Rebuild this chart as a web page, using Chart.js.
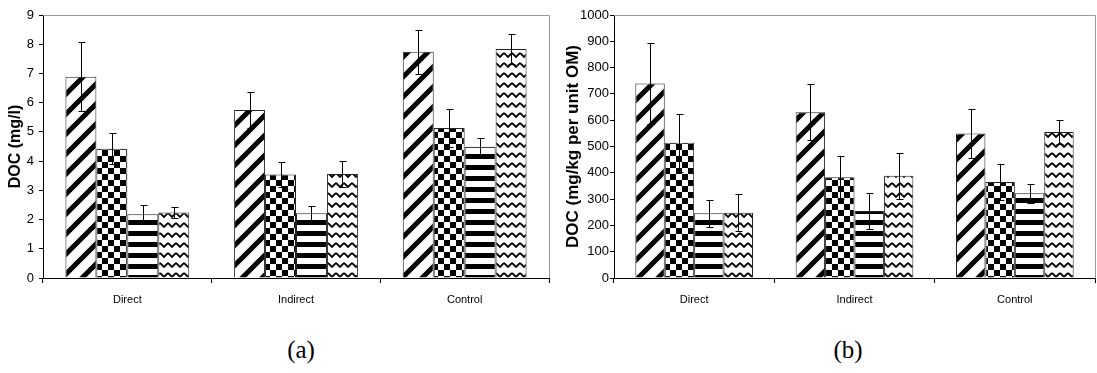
<!DOCTYPE html>
<html>
<head>
<meta charset="utf-8">
<script src="https://cdn.jsdelivr.net/npm/chart.js@4.4.0/dist/chart.umd.min.js"></script>
<style>
  body { margin: 0; background: #fff; width: 1097px; height: 373px; position: relative; overflow: hidden; }
  #wrapA { position: absolute; left: 0; top: 0; width: 556px; height: 315px; }
  #wrapB { position: absolute; left: 556px; top: 0; width: 541px; height: 315px; }
  .panel { position: absolute; top: 336px; width: 80px; text-align: center;
           font-family: "Liberation Serif", "Times New Roman", serif; font-size: 25px; color: #000; }
</style>
</head>
<body>
<div id="wrapA"><canvas id="chartA" width="556" height="315"></canvas></div>
<div id="wrapB"><canvas id="chartB" width="541" height="315"></canvas></div>
<div class="panel" style="left:261px">(a)</div>
<div class="panel" style="left:808px">(b)</div>

<script>
// categories on the x axis
const categories = ['Direct', 'Indirect', 'Control'];
const seriesNames = ['Treatment 1', 'Treatment 2', 'Treatment 3', 'Treatment 4'];

// (a) DOC (mg/l)
const docA1 = [6.89, 5.75, 7.74];
const docA2 = [4.42, 3.54, 5.13];
const docA3 = [2.18, 2.22, 4.49];
const docA4 = [2.24, 3.56, 7.84];
const errA1 = [1.18, 0.63, 0.76];
const errA2 = [0.53, 0.44, 0.65];
const errA3 = [0.32, 0.25, 0.29];
const errA4 = [0.20, 0.45, 0.51];

// (b) DOC (mg/kg per unit OM)
const docB1 = [740, 630, 549];
const docB2 = [514, 383, 365];
const docB3 = [246, 255, 322];
const docB4 = [248, 389, 555];
const errB1 = [155, 106, 92];
const errB2 = [110, 82, 70];
const errB3 = [52, 69, 37];
const errB4 = [71, 87, 47];

// fill patterns (white background, black marks)
function tile(w, h, draw) {
  const c = document.createElement('canvas');
  c.width = w; c.height = h;
  const g = c.getContext('2d');
  g.fillStyle = '#fff';
  g.fillRect(0, 0, w, h);
  g.fillStyle = '#000';
  g.strokeStyle = '#000';
  draw(g, w, h);
  return document.createElement('canvas').getContext('2d').createPattern(c, 'repeat');
}

const diagonal = tile(20, 20, (g, s) => {
  g.lineWidth = 5;
  g.beginPath();
  g.moveTo(-2, 2); g.lineTo(2, -2);
  g.moveTo(0, s); g.lineTo(s, 0);
  g.moveTo(s - 2, s + 2); g.lineTo(s + 2, s - 2);
  g.stroke();
});
const checker = tile(12, 12, (g) => {
  g.fillRect(0, 0, 6, 6);
  g.fillRect(6, 6, 6, 6);
});
const stripes = tile(4, 11, (g) => {
  g.fillRect(0, 0, 4, 5);
});
const zigzag = tile(8, 10, (g) => {
  g.lineWidth = 1.8;
  g.beginPath();
  g.moveTo(0, 3); g.lineTo(4, 7); g.lineTo(8, 3);
  g.stroke();
});
const patterns = [diagonal, checker, stripes, zigzag];

const errorBars = {
  id: 'errorBars',
  afterDatasetsDraw(chart) {
    const ctx = chart.ctx;
    const y = chart.scales.y;
    ctx.save();
    ctx.strokeStyle = '#000';
    ctx.lineWidth = 1;
    chart.data.datasets.forEach((ds, i) => {
      chart.getDatasetMeta(i).data.forEach((bar, j) => {
        const v = ds.data[j], e = ds.errors[j];
        const x = Math.round(bar.x) + 0.5;
        const top = Math.round(y.getPixelForValue(v + e)) + 0.5;
        const bot = Math.round(y.getPixelForValue(v - e)) + 0.5;
        ctx.beginPath();
        ctx.moveTo(x, top); ctx.lineTo(x, bot);
        ctx.moveTo(x - 3, top); ctx.lineTo(x + 4, top);
        ctx.moveTo(x - 3, bot); ctx.lineTo(x + 4, bot);
        ctx.stroke();
      });
    });
    ctx.restore();
  }
};

// light grey top and right edges of the plot box
const frame = {
  id: 'frame',
  afterDraw(chart) {
    const a = chart.chartArea, ctx = chart.ctx;
    ctx.save();
    ctx.strokeStyle = '#999';
    ctx.lineWidth = 1;
    ctx.beginPath();
    ctx.moveTo(a.left, Math.round(a.top) + 0.5);
    ctx.lineTo(Math.round(a.right) + 0.5, Math.round(a.top) + 0.5);
    ctx.lineTo(Math.round(a.right) + 0.5, a.bottom);
    ctx.stroke();
    ctx.restore();
  }
};

function makeChart(id, values, errors, yMax, step, title, titleSize, titlePad, axisWidth, padRight, labelPad) {
  new Chart(document.getElementById(id), {
    type: 'bar',
    data: {
      labels: categories,
      datasets: values.map((d, i) => ({
        label: seriesNames[i],
        data: d,
        errors: errors[i],
        backgroundColor: patterns[i],
        borderColor: '#222',
        borderWidth: 1,
        barPercentage: 1,
        categoryPercentage: 0.734
      }))
    },
    options: {
      responsive: false,
      devicePixelRatio: 1,
      animation: false,
      layout: { padding: { top: 15, right: padRight, bottom: 0, left: 0 } },
      plugins: { legend: { display: false }, tooltip: { enabled: false } },
      scales: {
        x: {
          afterFit: s => { s.height = 37; },
          grid: { display: true, drawOnChartArea: false, color: '#000', tickLength: 5, offset: true },
          border: { color: '#000', width: 1 },
          ticks: { color: '#000', padding: 10, font: { family: 'Liberation Sans', size: 11 } }
        },
        y: {
          min: 0, max: yMax,
          afterFit: s => { s.width = axisWidth; },
          grid: { display: true, drawOnChartArea: false, color: '#000', tickLength: 4 },
          border: { color: '#000', width: 1 },
          ticks: {
            stepSize: step, color: '#000', padding: labelPad,
            font: { family: 'Liberation Sans', size: 13 },
            callback: v => String(v)
          },
          title: {
            display: true, text: title, color: '#000',
            padding: { top: titlePad, bottom: 0 },
            font: { family: 'Liberation Sans', size: titleSize, weight: 'bold' }
          }
        }
      }
    },
    plugins: [errorBars, frame]
  });
}

makeChart('chartA', [docA1, docA2, docA3, docA4], [errA1, errA2, errA3, errA4],
  9, 1, 'DOC (mg/l)', 16, 6, 43, 7, 5);
makeChart('chartB', [docB1, docB2, docB3, docB4], [errB1, errB2, errB3, errB4],
  1000, 100, 'DOC (mg/kg per unit OM)', 17, 7, 58, 2, 1);
</script>
</body>
</html>
